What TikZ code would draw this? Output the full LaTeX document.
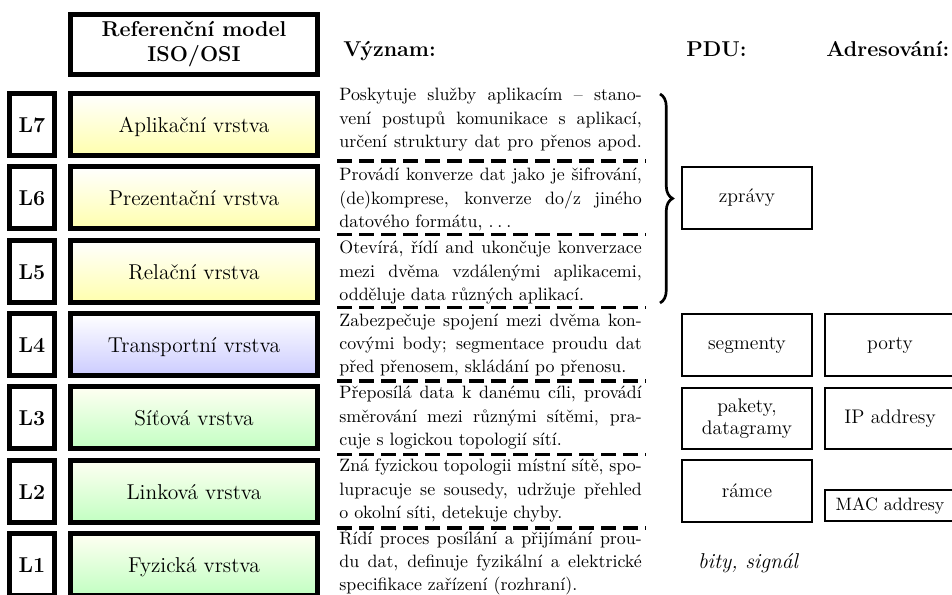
\documentclass[tikz,border=0pt]{standalone}
\usepackage{fontspec}
\usetikzlibrary{decorations.pathreplacing}
\newlength\descw
\setlength\descw{169pt}
% one fully justified line of a description, and a last (ragged) line
\newcommand\jline[1]{\hbox to \descw{\spaceskip=0.333em plus 2em minus 0.11em\relax #1}}
\newcommand\lline[1]{\hbox{#1}}
\begin{document}
\begin{tikzpicture}[x=0.5587pt, y=-0.5587pt,
  layer/.style={draw, line width=2.8pt, minimum width=138pt, minimum height=34.6pt,
    inner sep=0pt, font=\large, text height=9pt, text depth=0pt},
  appl/.style={layer, top color=white, bottom color=yellow!32},
  transp/.style={layer, top color=white, bottom color=blue!20},
  net/.style={layer, top color=yellow!5, bottom color=green!24},
  lbl/.style={draw, line width=2.8pt, minimum width=25.1pt, minimum height=34.6pt,
    inner sep=0pt, font=\large\bfseries, text height=9pt, text depth=0pt},
  headbox/.style={draw, line width=2.8pt, minimum width=138pt, minimum height=33.5pt,
    inner sep=0pt, align=center, font=\large\bfseries},
  colhead/.style={inner sep=0pt, font=\large\bfseries, anchor=base west},
  desc/.style={inner sep=0pt, anchor=base west, text width=\descw, align=left,
    font=\fontsize{10}{12.9}\selectfont},
  pdubox/.style={draw, line width=1.1pt, minimum width=72.6pt, minimum height=34.6pt,
    inner sep=0pt, align=center, font=\fontsize{11}{12.6}\selectfont},
  sep/.style={line width=1.9pt, dash pattern=on 8.4pt off 3.9pt},
  bigbrace/.style={line width=1.5pt, decorate,
    decoration={brace, amplitude=7pt, aspect=0.5}}
]
\useasboundingbox (0,0) rectangle (952,595);

% column headings
\node[headbox] (ref) at (194,44.5) {Referenční model\\ISO/OSI};
\node[colhead] (hmean) at (343,57) {Význam:};
\node[colhead] (hpdu) at (686,57) {PDU:};
\node[colhead] (haddr) at (826,57) {Adresování:};

% layer labels
\node[lbl] (l7) at (32,124.3) {L7};
\node[lbl] (l6) at (32,197.7) {L6};
\node[lbl] (l5) at (32,271.1) {L5};
\node[lbl] (l4) at (32,344.5) {L4};
\node[lbl] (l3) at (32,417.9) {L3};
\node[lbl] (l2) at (32,491.3) {L2};
\node[lbl] (l1) at (32,564.7) {L1};

% layers
\node[appl]   (n7) at (194,124.3) {Aplikační vrstva};
\node[appl]   (n6) at (194,197.7) {Prezentační vrstva};
\node[appl]   (n5) at (194,271.1) {Relační vrstva};
\node[transp] (n4) at (194,344.5) {Transportní vrstva};
\node[net]    (n3) at (194,417.9) {Síťová vrstva};
\node[net]    (n2) at (194,491.3) {Linková vrstva};
\node[net]    (n1) at (194,564.7) {Fyzická vrstva};

% descriptions (anchored on the baseline of their first line)
\node[desc] (d7) at (339,101) {%
  \jline{Poskytuje služby aplikacím – stano-}
  \jline{vení postupů komunikace s aplikací,}
  \jline{určení struktury dat pro přenos apod.}};
\node[desc] (d6) at (339,181) {%
  \jline{Provádí konverze dat jako je šifrování,}
  \jline{(de)komprese, konverze do/z jiného}
  \lline{datového formátu, .\kern.22em.\kern.22em.}};
\node[desc] (d5) at (339,254) {%
  \jline{Otevírá, řídí and ukončuje konverzace}
  \jline{mezi dvěma vzdálenými aplikacemi,}
  \lline{odděluje data různých aplikací.}};
\node[desc] (d4) at (339,326.5) {%
  \jline{Zabezpečuje spojení mezi dvěma kon-}
  \jline{covými body; segmentace proudu dat}
  \lline{před přenosem, skládání po přenosu.}};
\node[desc] (d3) at (339,399) {%
  \jline{Přeposílá data k danému cíli, provádí}
  \jline{směrování mezi různými sítěmi, pra-}
  \lline{cuje s logickou topologií sítí.}};
\node[desc] (d2) at (339,472) {%
  \jline{Zná fyzickou topologii místní sítě, spo-}
  \jline{lupracuje se sousedy, udržuje přehled}
  \lline{o okolní síti, detekuje chyby.}};
\node[desc] (d1) at (339,544.5) {%
  \jline{Řídí proces posílání a přijímání prou-}
  \jline{du dat, definuje fyzikální a elektrické}
  \lline{specifikace zařízení (rozhraní).}};

% dashed separators between the descriptions
\foreach \yy in {161,234.4,307.8,381.2,454.6,528}
  \draw[sep] (337,\yy) -- (646,\yy);

% brace over the upper three layers
\coordinate (btop) at (660,94);
\coordinate (bbot) at (660,303);
\draw[bigbrace] (btop) -- (bbot);

% protocol data units
\node[pdubox] (pm) at (747,198) {zprávy};
\node[pdubox] (ps) at (747,345) {segmenty};
\node[pdubox] (pp) at (747,418.5) {pakety,\\datagramy};
\node[pdubox] (pr) at (747,491) {rámce};
\node[inner sep=0pt, font=\large\itshape] (pb) at (748,563) {bity, signál};

% addressing
\node[pdubox] (ap) at (890,345) {porty};
\node[pdubox] (ai) at (890,418.5) {IP addresy};
\node[pdubox, minimum height=17.3pt, font=\normalsize] (am) at (890,505.5) {MAC addresy};
\end{tikzpicture}
\end{document}
